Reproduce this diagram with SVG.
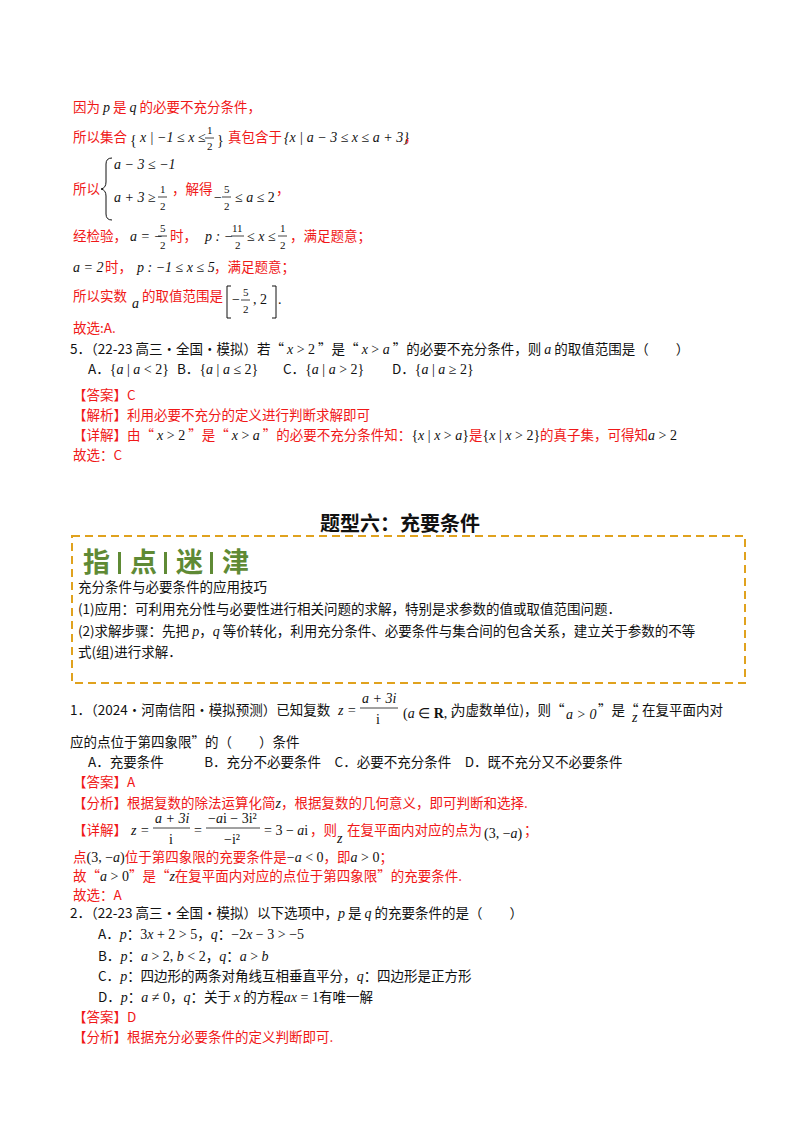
<svg xmlns="http://www.w3.org/2000/svg" width="800" height="1132" viewBox="0 0 800 1132">
<style>
text{font-family:"Noto Sans CJK SC","Noto Sans",sans-serif;font-size:13.5px;fill:#111}
.r{fill:#f01818}
.m{font-family:"Liberation Serif",serif;font-style:italic;font-size:14px;fill:#111}
.n{font-family:"Liberation Serif",serif;font-size:14px;fill:#111}
.s{font-size:11px}
.t{font-size:20px;font-weight:bold}
.g{font-size:27px;font-weight:bold;fill:#5f8a35}
.fl{stroke:#111;stroke-width:0.8}
</style>
<rect width="800" height="1132" fill="#fff"/>
<g id="sol4">
<text x="73" y="112" class="r">因为 <tspan class="m">p</tspan> 是 <tspan class="m">q</tspan> 的必要不充分条件，</text>
<text x="73" y="142" class="r">所以集合</text>
<text x="130" y="145" class="n" font-size="24">{</text>
<text x="140" y="142" class="m">x <tspan class="n">| −1 ≤ </tspan>x<tspan class="n"> ≤</tspan></text>
<text x="207" y="134" class="n s">1</text><line x1="205" y1="138" x2="214" y2="138" class="fl"/><text x="207" y="150" class="n s">2</text>
<text x="217" y="145" class="n" font-size="24">}</text>
<text x="228" y="142" class="r">真包含于</text>
<text x="284" y="142" class="m"><tspan class="n">{</tspan>x <tspan class="n">| </tspan>a<tspan class="n"> − 3 ≤ </tspan>x<tspan class="n"> ≤ </tspan>a<tspan class="n"> + 3}</tspan></text>
<text x="404" y="142" class="r">，</text>
<text x="73" y="194" class="r">所以</text>
<path d="M112,158 Q106,158 106,164 L106,182 Q106,188 101,189 Q106,190 106,196 L106,214 Q106,220 112,220" fill="none" stroke="#111" stroke-width="1"/>
<text x="114" y="169" class="m">a<tspan class="n"> − 3 ≤ −1</tspan></text>
<text x="114" y="202" class="m">a<tspan class="n"> + 3 ≥</tspan></text>
<text x="160" y="193" class="n s">1</text><line x1="158" y1="197" x2="167" y2="197" class="fl"/><text x="160" y="210" class="n s">2</text>
<text x="172" y="194" class="r">，解得</text>
<text x="214" y="202" class="n">−</text>
<text x="224" y="193" class="n s">5</text><line x1="222" y1="197" x2="231" y2="197" class="fl"/><text x="224" y="210" class="n s">2</text>
<text x="235" y="202" class="n">≤ <tspan class="m">a</tspan> ≤ 2</text>
<text x="276" y="194" class="r">，</text>
<text x="73" y="241" class="r">经检验，</text>
<text x="130" y="241" class="m">a<tspan class="n"> = −</tspan></text>
<text x="160" y="232" class="n s">5</text><line x1="158" y1="236" x2="167" y2="236" class="fl"/><text x="160" y="249" class="n s">2</text>
<text x="170" y="241" class="r">时，</text>
<text x="205" y="241" class="m">p<tspan class="n"> : −</tspan></text>
<text x="232" y="232" class="n s">11</text><line x1="231" y1="236" x2="244" y2="236" class="fl"/><text x="235" y="249" class="n s">2</text>
<text x="247" y="241" class="n">≤ <tspan class="m">x</tspan> ≤</text>
<text x="280" y="232" class="n s">1</text><line x1="278" y1="236" x2="287" y2="236" class="fl"/><text x="280" y="249" class="n s">2</text>
<text x="290" y="241" class="r">，满足题意；</text>
<text x="73" y="272" class="m">a<tspan class="n"> = 2</tspan></text>
<text x="105" y="272" class="r">时，</text>
<text x="137" y="272" class="m">p<tspan class="n"> : −1 ≤ </tspan>x<tspan class="n"> ≤ 5</tspan></text>
<text x="214" y="272" class="r">，满足题意；</text>
<text x="73" y="301" class="r">所以实数</text>
<text x="132" y="308" class="m">a</text>
<text x="142" y="301" class="r">的取值范围是</text>
<path d="M231,286 L227,286 L227,318 L231,318 M272,286 L276,286 L276,318 L272,318" fill="none" stroke="#111" stroke-width="1"/>
<text x="232" y="304" class="n">−</text>
<text x="243" y="296" class="n s">5</text><line x1="241" y1="300" x2="250" y2="300" class="fl"/><text x="243" y="313" class="n s">2</text>
<text x="253" y="304" class="n">, 2</text>
<text x="278" y="304" class="n">.</text>
<text x="73" y="333" class="r">故选:A.</text>
</g>
<g id="q5">
<text x="70" y="354">5．（22-23 高三·全国·模拟）若“ <tspan class="m">x</tspan><tspan class="n"> &gt; 2</tspan> ”是“ <tspan class="m">x</tspan><tspan class="n"> &gt; </tspan><tspan class="m">a</tspan> ”的必要不充分条件，则 <tspan class="m">a</tspan> 的取值范围是（　　）</text>
<text x="88" y="374">A．<tspan class="n">{<tspan class="m">a</tspan> | <tspan class="m">a</tspan> &lt; 2}</tspan></text>
<text x="177" y="374">B．<tspan class="n">{<tspan class="m">a</tspan> | <tspan class="m">a</tspan> ≤ 2}</tspan></text>
<text x="283" y="374">C．<tspan class="n">{<tspan class="m">a</tspan> | <tspan class="m">a</tspan> &gt; 2}</tspan></text>
<text x="392" y="374">D．<tspan class="n">{<tspan class="m">a</tspan> | <tspan class="m">a</tspan> ≥ 2}</tspan></text>
<text x="73" y="400" class="r">【答案】C</text>
<text x="73" y="420" class="r">【解析】利用必要不充分的定义进行判断求解即可</text>
<text x="73" y="440" class="r">【详解】由“ <tspan class="m">x</tspan><tspan class="n"> &gt; 2</tspan> ”是“ <tspan class="m">x</tspan><tspan class="n"> &gt; </tspan><tspan class="m">a</tspan> ”的必要不充分条件知：<tspan class="n">{<tspan class="m">x</tspan> | <tspan class="m">x</tspan> &gt; <tspan class="m">a</tspan>}</tspan>是<tspan class="n">{<tspan class="m">x</tspan> | <tspan class="m">x</tspan> &gt; 2}</tspan>的真子集，可得知<tspan class="m">a</tspan><tspan class="n"> &gt; 2</tspan></text>
<text x="73" y="460" class="r">故选：C</text>
</g>
<g id="section">
<text x="400" y="531" class="t" text-anchor="middle">题型六：充要条件</text>
<rect x="72" y="536" width="673" height="147" fill="none" stroke="#e0a21e" stroke-width="2" stroke-dasharray="8,5"/>
<text x="83" y="572" class="g">指</text>
<rect x="118" y="552" width="3" height="22" fill="#5f8a35"/>
<text x="130" y="572" class="g">点</text>
<rect x="164" y="552" width="3" height="22" fill="#5f8a35"/>
<text x="176" y="572" class="g">迷</text>
<rect x="210" y="552" width="3" height="22" fill="#5f8a35"/>
<text x="222" y="572" class="g">津</text>
<text x="78" y="592">充分条件与必要条件的应用技巧</text>
<text x="78" y="614">(1)应用：可利用充分性与必要性进行相关问题的求解，特别是求参数的值或取值范围问题．</text>
<text x="78" y="636">(2)求解步骤：先把 <tspan class="m">p</tspan>，<tspan class="m">q</tspan> 等价转化，利用充分条件、必要条件与集合间的包含关系，建立关于参数的不等</text>
<text x="78" y="657">式(组)进行求解．</text>
</g>
<g id="q1">
<text x="70" y="715">1．（2024·河南信阳·模拟预测）已知复数</text>
<text x="338" y="715" class="m">z<tspan class="n"> =</tspan></text>
<text x="362" y="703" class="m">a<tspan class="n"> + 3i</tspan></text><line x1="360" y1="708" x2="398" y2="708" class="fl"/><text x="376" y="724" class="n">i</text>
<text x="403" y="718" class="n">(<tspan class="m">a</tspan> ∈ <tspan font-weight="bold">R</tspan>, i</text>
<text x="452" y="715">为虚数单位)，则“</text>
<text x="566" y="719" class="m">a<tspan class="n"> &gt; 0</tspan></text>
<text x="598" y="715">”是“</text>
<text x="632" y="722" class="m">z</text>
<text x="642" y="715">在复平面内对</text>
<text x="70" y="747">应的点位于第四象限”的（　　）条件</text>
<text x="88" y="767">A．充要条件　　　B．充分不必要条件　C．必要不充分条件　D．既不充分又不必要条件</text>
<text x="73" y="787" class="r">【答案】A</text>
<text x="73" y="808" class="r">【分析】根据复数的除法运算化简<tspan class="m" fill="#111">z</tspan>，根据复数的几何意义，即可判断和选择.</text>
<text x="73" y="835" class="r">【详解】</text>
<text x="131" y="835" class="m">z<tspan class="n"> =</tspan></text>
<text x="155" y="823" class="m">a<tspan class="n"> + 3i</tspan></text><line x1="153" y1="828" x2="190" y2="828" class="fl"/><text x="169" y="844" class="n">i</text>
<text x="194" y="835" class="n">=</text>
<text x="208" y="823" class="n">−<tspan class="m">a</tspan>i − 3i²</text><line x1="206" y1="828" x2="260" y2="828" class="fl"/><text x="224" y="844" class="n">−i²</text>
<text x="264" y="835" class="n">= 3 − <tspan class="m">a</tspan>i</text>
<text x="310" y="835" class="r">，则</text>
<text x="337" y="843" class="m">z</text>
<text x="347" y="835" class="r">在复平面内对应的点为</text>
<text x="484" y="838" class="n" font-size="16">(3, −<tspan class="m">a</tspan>)</text>
<text x="524" y="835" class="r">；</text>
<text x="73" y="862" class="r">点<tspan class="n" font-size="16" fill="#111">(3, −<tspan class="m">a</tspan>)</tspan>位于第四象限的充要条件是<tspan class="n" fill="#111">−<tspan class="m">a</tspan> &lt; 0</tspan>，即<tspan class="m" fill="#111">a</tspan><tspan class="n" fill="#111"> &gt; 0</tspan>；</text>
<text x="73" y="881" class="r">故“<tspan class="m" fill="#111">a</tspan><tspan class="n" fill="#111"> &gt; 0</tspan>”是“<tspan class="m" fill="#111">z</tspan>在复平面内对应的点位于第四象限”的充要条件.</text>
<text x="73" y="900" class="r">故选：A</text>
</g>
<g id="q2">
<text x="70" y="918">2．（22-23 高三·全国·模拟）以下选项中，<tspan class="m">p</tspan> 是 <tspan class="m">q</tspan> 的充要条件的是（　　）</text>
<text x="98" y="939">A．<tspan class="m">p</tspan>：<tspan class="n">3<tspan class="m">x</tspan> + 2 &gt; 5</tspan>，<tspan class="m">q</tspan>：<tspan class="n">−2<tspan class="m">x</tspan> − 3 &gt; −5</tspan></text>
<text x="98" y="961">B．<tspan class="m">p</tspan>：<tspan class="n"><tspan class="m">a</tspan> &gt; 2, <tspan class="m">b</tspan> &lt; 2</tspan>，<tspan class="m">q</tspan>：<tspan class="n" font-size="12"><tspan class="m" font-size="12">a</tspan> &gt; <tspan class="m" font-size="12">b</tspan></tspan></text>
<text x="98" y="981">C．<tspan class="m">p</tspan>：四边形的两条对角线互相垂直平分，<tspan class="m">q</tspan>：四边形是正方形</text>
<text x="98" y="1002">D．<tspan class="m">p</tspan>：<tspan class="n"><tspan class="m">a</tspan> ≠ 0</tspan>，<tspan class="m">q</tspan>：关于 <tspan class="m">x</tspan> 的方程<tspan class="n"><tspan class="m">ax</tspan> = 1</tspan>有唯一解</text>
<text x="73" y="1022" class="r">【答案】D</text>
<text x="73" y="1042" class="r">【分析】根据充分必要条件的定义判断即可.</text>
</g>
</svg>
